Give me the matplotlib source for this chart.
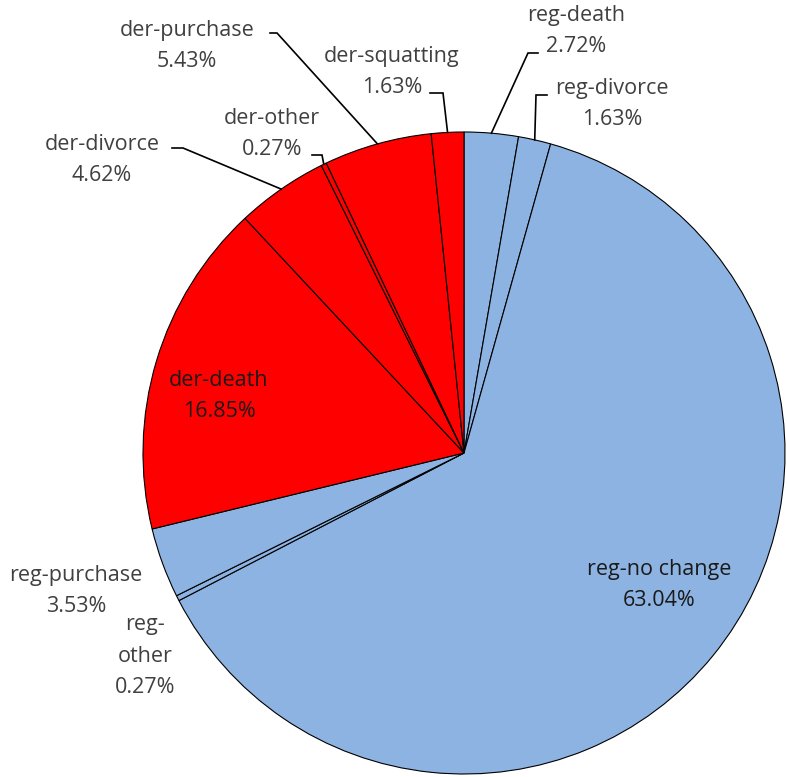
import numpy as np
import matplotlib.pyplot as plt

plt.rcParams['font.family'] = ['Open Sans', 'DejaVu Sans']

labels = ['reg-death', 'reg-divorce', 'reg-no change', 'reg-other', 'reg-purchase',
          'der-death', 'der-divorce', 'der-other', 'der-purchase', 'der-squatting']
shares = [2.72, 1.63, 63.04, 0.27, 3.53, 16.85, 4.62, 0.27, 5.43, 1.63]
colors = ['#8DB3E2'] * 5 + ['#FF0000'] * 5
label_text = ['reg-death\n2.72%', 'reg-divorce\n1.63%', 'reg-no change\n63.04%',
              'reg-\nother\n0.27%', 'reg-purchase\n3.53%', 'der-death\n16.85%',
              'der-divorce\n4.62%', 'der-other\n0.27%', 'der-purchase\n5.43%',
              'der-squatting\n1.63%']

W, H = 787, 777
CX, CY, R = 464, 453, 321

# layout in pixels: text centre, and leader start/elbow (None = no leader)
text_pos = [(576, 31), (612, 104), (659, 585), (145, 656), (76, 591),
            (219, 396), (102, 160), (272, 134), (187, 46), (392, 72)]
leaders = [((538, 53), (528, 53)), ((547, 95), (536, 95)), None, None, None,
           None, ((172, 148), (183, 148)), ((312, 155), (322, 155)),
           ((270, 33), (277, 33)), ((430, 93), (443, 93))]


def px(p):
    return ((p[0] - CX) / R, (CY - p[1]) / R)


fig = plt.figure(figsize=(W / 100, H / 100), dpi=100)
ax = fig.add_axes([(CX - R) / W, (H - CY - R) / H, 2 * R / W, 2 * R / H])
wedges, _ = ax.pie(shares, colors=colors, startangle=90, counterclock=False,
                   radius=1, wedgeprops=dict(edgecolor='black', linewidth=0.8))
ax.set_xlim(-1, 1)
ax.set_ylim(-1, 1)
ax.axis('off')

for i, w in enumerate(wedges):
    tx, ty = px(text_pos[i])
    inside = labels[i] in ('der-death', 'reg-no change')
    ax.text(tx, ty, label_text[i], ha='center', va='center', fontsize=15.5,
            color='#1a1a1a' if inside else '#404040', linespacing=1.65,
            clip_on=False)
    if leaders[i] is not None:
        mid = np.deg2rad((w.theta1 + w.theta2) / 2)
        ex, ey = np.cos(mid), np.sin(mid)
        s, e = px(leaders[i][0]), px(leaders[i][1])
        ax.plot([s[0], e[0], ex], [s[1], e[1], ey], color='black', lw=1.2,
                clip_on=False, solid_joinstyle='miter')

fig.savefig('out.png', dpi=100)
